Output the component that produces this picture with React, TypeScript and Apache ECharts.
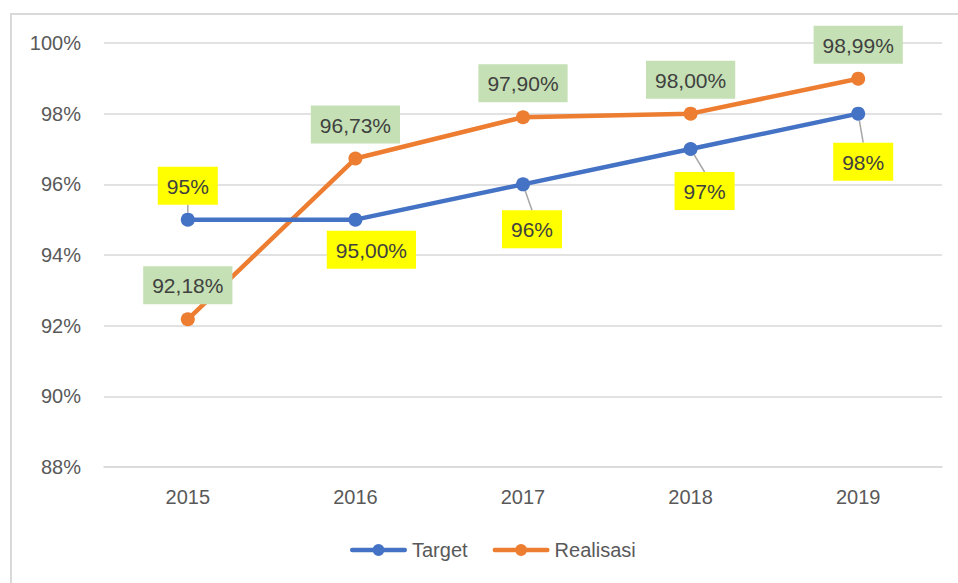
import React, { useEffect, useRef } from "react";
import * as echarts from "echarts";

const years = ["2015", "2016", "2017", "2018", "2019"];
const targetValues = [95, 95, 96, 97, 98];
const targetLabels = ["95%", "95,00%", "96%", "97%", "98%"];
const realisasiValues = [92.18, 96.73, 97.9, 98.0, 98.99];
const realisasiLabels = ["92,18%", "96,73%", "97,90%", "98,00%", "98,99%"];
const yMin = 88;
const yMax = 100;
const yStep = 2;

// label placement tweaks (style only)
const targetShift = [
  [0, 0],
  [16, -4],
  [9, 11],
  [14, 8],
  [5, 14],
];

const FONT = "'Liberation Sans', Arial, sans-serif";
const LEGEND_ICON =
  "path://M2.25,3.75 L54.75,3.75 A2.25,2.25 0 0 1 54.75,8.25 L2.25,8.25 A2.25,2.25 0 0 1 2.25,3.75 Z M28.5,0 A6,6 0 1 1 28.5,12 A6,6 0 1 1 28.5,0 Z";

export default function App() {
  const ref = useRef<HTMLDivElement>(null);
  useEffect(() => {
    if (!ref.current) return;
    const chart = echarts.init(ref.current, undefined, { renderer: "svg" });
    const labelBase = {
      show: true,
      fontFamily: FONT,
      fontSize: 21,
      color: "#404040",
      padding: [8, 9, 7, 9],
      lineHeight: 23,
      distance: 8,
    };
    chart.setOption({
      animation: false,
      backgroundColor: "#ffffff",
      textStyle: { fontFamily: FONT },
      graphic: [
        {
          type: "rect",
          shape: { x: 11, y: 14, width: 1200, height: 1000 },
          style: { fill: "none", stroke: "#d9d9d9", lineWidth: 2 },
          silent: true,
          z: -10,
        },
      ],
      grid: { left: 104, right: 16, top: 43, bottom: 116 },
      legend: {
        left: 350,
        top: 540,
        padding: 0,
        itemWidth: 57,
        itemHeight: 12,
        itemGap: 25,
        icon: LEGEND_ICON,
        textStyle: { fontFamily: FONT, fontSize: 20, color: "#595959" },
        data: ["Target", "Realisasi"],
      },
      xAxis: {
        type: "category",
        data: years,
        boundaryGap: true,
        axisLine: { show: true, lineStyle: { color: "#d9d9d9", width: 1.5 } },
        axisTick: { show: false },
        axisLabel: { fontFamily: FONT, fontSize: 20, color: "#595959", margin: 20 },
      },
      yAxis: {
        type: "value",
        min: yMin,
        max: yMax,
        interval: yStep,
        axisLine: { show: false },
        axisTick: { show: false },
        axisLabel: {
          fontFamily: FONT,
          fontSize: 20,
          color: "#595959",
          margin: 23,
          formatter: (v: number) => `${v}%`,
        },
        splitLine: { lineStyle: { color: "#d9d9d9", width: 1.5 } },
      },
      series: [
        {
          name: "Target",
          type: "line",
          data: targetValues.map((v, i) =>
            i === 0 ? { value: v, label: { position: "top" } } : { value: v, labelLine: { show: i !== 1 } }
          ),
          symbol: "circle",
          symbolSize: 14,
          itemStyle: { color: "#4472c4" },
          lineStyle: { color: "#4472c4", width: 4.5 },
          label: {
            ...labelBase,
            position: "bottom",
            backgroundColor: "#ffff00",
            formatter: (p: any) => targetLabels[p.dataIndex],
          },
          labelLine: { show: true, lineStyle: { color: "#a6a6a6", width: 1.5 } },
          labelLayout: (p: any) => ({
            dx: targetShift[p.dataIndex][0],
            dy: targetShift[p.dataIndex][1],
          }),
          z: 3,
        },
        {
          name: "Realisasi",
          type: "line",
          data: realisasiValues,
          symbol: "circle",
          symbolSize: 14,
          itemStyle: { color: "#ed7d31" },
          lineStyle: { color: "#ed7d31", width: 4.5 },
          label: {
            ...labelBase,
            position: "top",
            backgroundColor: "#c5e0b4",
            formatter: (p: any) => realisasiLabels[p.dataIndex],
          },
          z: 2,
        },
      ],
    });
    return () => chart.dispose();
  }, []);
  return (
    <div
      ref={ref}
      style={{ position: "fixed", left: 0, top: 0, width: 958, height: 583, background: "#fff" }}
    />
  );
}
